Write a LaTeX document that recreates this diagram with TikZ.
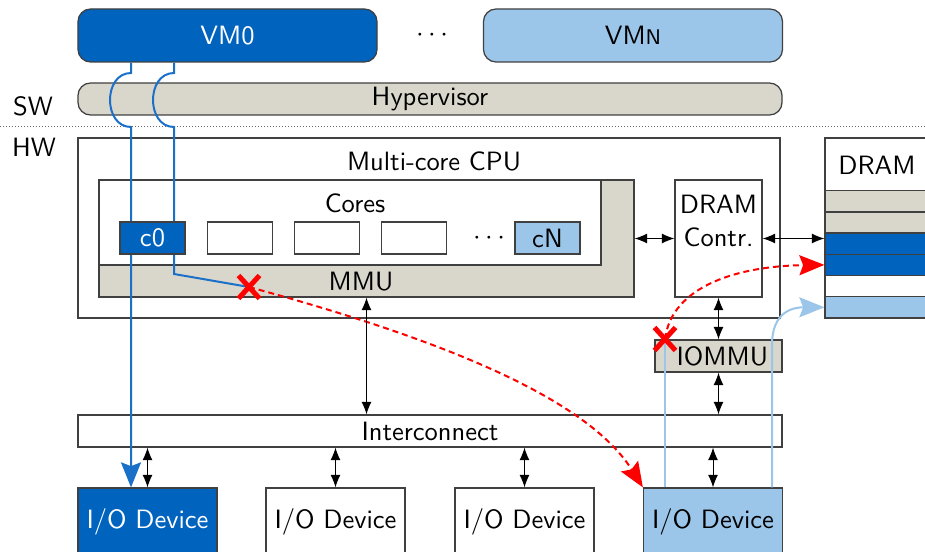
\documentclass[tikz,border=0pt]{standalone}
\usepackage{fontspec}
\renewcommand{\familydefault}{\sfdefault}
\usepackage{tikz}
\usetikzlibrary{arrows.meta, shapes.misc}

\definecolor{vmdark}{RGB}{0,99,190}
\definecolor{vmlight}{RGB}{155,198,233}
\definecolor{hwgray}{RGB}{217,215,203}
\definecolor{vmline}{RGB}{26,112,200}

\begin{document}
\begin{tikzpicture}[
  x=0.4pt, y=-0.4pt,
  font=\fontsize{10.6pt}{13pt}\selectfont,
  box/.style={draw=black!75, line width=0.5pt, inner sep=0pt},
  vmbox/.style={box, rounded corners=5pt, minimum width=119.6pt, minimum height=21.2pt},
  bar/.style={box, minimum width=281.6pt, minimum height=12.8pt},
  core/.style={box, fill=white, minimum width=26pt, minimum height=12.8pt},
  iodev/.style={box, minimum width=55.6pt, minimum height=32pt, text height=7.3pt, text depth=7.3pt},
  slot/.style={box, minimum width=44pt, minimum height=8.48pt},
  link/.style={{Latex[length=5pt,width=4pt]}-{Latex[length=5pt,width=4pt]}, line width=0.4pt},
  vmpath/.style={vmline, line width=0.8pt},
  vmnpath/.style={vmlight, line width=0.8pt},
  fault/.style={red, line width=0.8pt, dash pattern=on 2.4pt off 1.6pt, -{Stealth[length=10pt,width=8pt,inset=1.5pt]}},
  blocked/.style={cross out, draw=red, line width=2pt, minimum width=6.4pt, minimum height=7.2pt, inner sep=0pt}
]
\useasboundingbox (0,0) rectangle (925,552);

% software side
\node[vmbox, fill=vmdark, text=white] (vm0) at (227.5,35.5) {VM0};
\node (vmdots) at (432,35.5) {$\cdots$};
\node[vmbox, fill=vmlight] (vmn) at (633,35.5) {VM{\fontsize{8.5pt}{10pt}\selectfont N}};
\node[bar, rounded corners=5pt, fill=hwgray] (hyp) at (430,99) {Hypervisor};
\node (sw) at (33,106) {SW};
\node (hw) at (34,147) {HW};
\coordinate (sepl) at (0,127);
\coordinate (sepr) at (925,127);
\draw[black!60, dash pattern=on 0.4pt off 0.8pt] (sepl) -- (sepr);

% hardware side
\node[box, minimum width=280.8pt, minimum height=72pt] (cpu) at (429,228) {};
\node (cpuname) at (434,161) {Multi-core CPU};
\node[box, fill=hwgray, minimum width=214pt, minimum height=46.8pt] (mmu) at (366.5,238.5) {};
\node (mmuname) at (361,282) {MMU};
\node[box, fill=white, minimum width=200.8pt, minimum height=34pt] (cores) at (350,222.5) {};
\node (coresname) at (355,203) {Cores};
\node[box, minimum width=34.8pt, minimum height=46.8pt] (dramc) at (718.5,238.5) {};
\node[align=center] (dramcname) at (718.5,221) {DRAM\\Contr.};

\node[box, minimum width=44pt, minimum height=72pt] (dram) at (880,228) {};
\node (dramname) at (877,165) {DRAM};
\node[slot, fill=hwgray] (d1) at (880,201.3) {};
\node[slot, fill=hwgray] (d2) at (880,222.5) {};
\node[slot, fill=vmdark] (d3) at (880,243.7) {};
\node[slot, fill=vmdark] (d4) at (880,264.9) {};
\node[slot, fill=white] (d5) at (880,286.1) {};
\node[slot, fill=vmlight] (d6) at (880,307.3) {};

\node[box, fill=hwgray, minimum width=50.8pt, minimum height=12.8pt] (iommu) at (718.5,356) {\hspace{3pt}IOMMU};
\node[bar] (inter) at (430,431) {Interconnect};

\node[iodev, fill=vmdark, text=white] (io0) at (147.5,528) {I/O Device};
\node[iodev] (io1) at (335.5,528) {I/O Device};
\node[iodev] (io2) at (524.5,528) {I/O Device};
\node[iodev, fill=vmlight] (io3) at (713,528) {I/O Device};

% paths of VM0 (jump over the hypervisor)
\coordinate (a0) at (131,0);
\coordinate (a1) at (174,0);
\coordinate (x1) at (249,287);
\draw[vmpath, -{Stealth[length=10pt,width=8pt,inset=1.5pt]}] (vm0.south -| a0) -- (131,73)
  .. controls (103,73) and (103,127) .. (131,127) -- (io0.north -| a0);
\draw[vmpath] (vm0.south -| a1) -- (174,73)
  .. controls (146,73) and (146,127) .. (174,127) -- (174,274) -- (x1);

% cores
\node[core, fill=vmdark, text=white] (c0) at (152.5,238) {c0};
\node[core] (c1) at (240,238) {};
\node[core] (c2) at (327,238) {};
\node[core] (c3) at (414,238) {};
\node (cdots) at (489,238) {$\cdots$};
\node[core, fill=vmlight] (cn) at (547.5,238) {cN};

% paths of the device of VMn
\coordinate (b0) at (665,0);
\coordinate (b1) at (772,0);
\coordinate (x2) at (665,339);
\draw[vmnpath] (io3.north -| b0) -- (x2);
\draw[vmnpath, -{Stealth[length=10pt,width=8pt,inset=1.5pt]}] (io3.north -| b1) -- (772,345)
  .. controls (772,310) and (795,307.3) .. (d6.west);

% faulting accesses
\draw[fault] (x1) .. controls (418,333) and (583,392) .. (io3.north west);
\draw[fault] (x2) .. controls (672,285) and (740,266) .. (d4.west);
\node[blocked] (stop1) at (x1) {};
\node[blocked] (stop2) at (x2) {};

% buses
\draw[link] (mmu.east) -- (dramc.west);
\draw[link] (dramc.east) -- (dramc.east -| dram.west);
\draw[link] (mmu.south) -- (mmu.south |- inter.north);
\draw[link] (dramc.south) -- (iommu.north);
\draw[link] (iommu.south) -- (iommu.south |- inter.north);
\draw[link] (io0.north |- inter.south) -- (io0.north);
\draw[link] (io1.north |- inter.south) -- (io1.north);
\draw[link] (io2.north |- inter.south) -- (io2.north);
\draw[link] (io3.north |- inter.south) -- (io3.north);
\end{tikzpicture}
\end{document}
